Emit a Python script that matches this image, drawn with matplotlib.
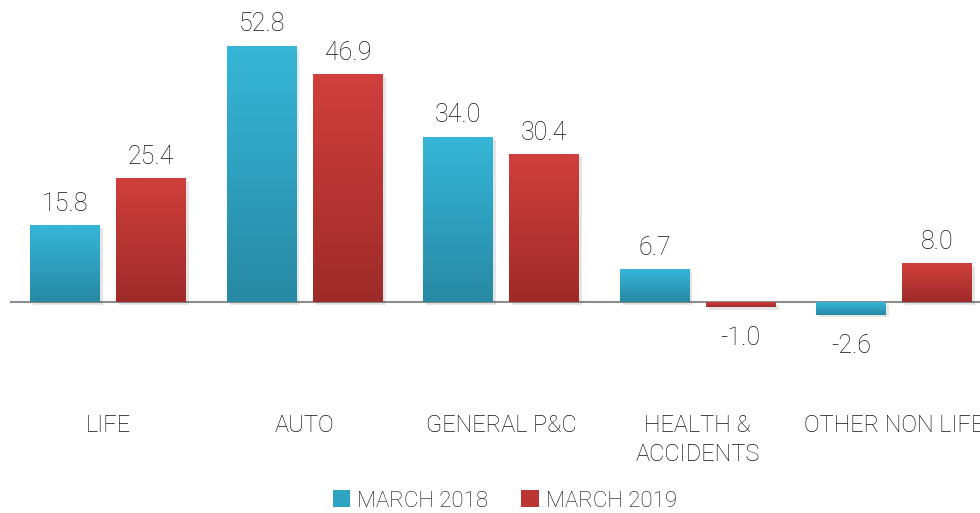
import numpy as np
import matplotlib
matplotlib.use("Agg")
import matplotlib.pyplot as plt
import matplotlib.patheffects as pe
from matplotlib.colors import to_rgb
from matplotlib.patches import Patch

categories = ["LIFE", "AUTO", "GENERAL P&C", "HEALTH &\nACCIDENTS", "OTHER NON LIFE"]
march_2018 = [15.8, 52.8, 34.0, 6.7, -2.6]
march_2019 = [25.4, 46.9, 30.4, -1.0, 8.0]
series_names = ["MARCH 2018", "MARCH 2019"]

blue_top, blue_bottom = "#36b6d8", "#2789a4"
red_top, red_bottom = "#d03f3c", "#9e2b29"

plt.rcParams["font.family"] = ["Roboto", "DejaVu Sans"]
plt.rcParams["font.weight"] = "light"

fig = plt.figure(figsize=(9.8, 5.13), dpi=100)
ax = fig.add_axes([10 / 980, 1 - 360.2 / 513, 982.5 / 980, 324.8 / 513])
ax.axis("off")

width = 0.356
offset = 0.219
x = np.arange(len(categories))


def gradient_bars(xs, values, top, bottom):
    bars = ax.bar(xs, values, width, color=bottom, zorder=2,
                  path_effects=[pe.SimplePatchShadow(offset=(2, -2), alpha=0.15,
                                                     shadow_rgbFace="#555555"),
                                pe.Normal()])
    grad = np.linspace(0, 1, 64)[:, None, None]
    img = (1 - grad) * np.array(to_rgb(top)) + grad * np.array(to_rgb(bottom))
    for b in bars:
        x0 = b.get_x()
        y0, y1 = sorted([b.get_y(), b.get_y() + b.get_height()])
        ax.imshow(img, extent=(x0, x0 + b.get_width(), y0, y1), origin="upper",
                  aspect="auto", zorder=3, interpolation="bilinear")
    return bars


gradient_bars(x - offset, march_2018, blue_top, blue_bottom)
gradient_bars(x + offset, march_2019, red_top, red_bottom)
ax.set_xlim(-0.5, 4.5)
ax.set_ylim(-12, 55)

ax.axhline(0, color="#8c8c8c", lw=1.5, zorder=1)

for xs, vals in [(x - offset, march_2018), (x + offset, march_2019)]:
    for xi, v in zip(xs, vals):
        if v >= 0:
            ax.annotate(f"{v:.1f}", (xi, v), xytext=(0, 7), textcoords="offset points",
                        ha="center", va="bottom", fontsize=18, color="#111111")
        else:
            ax.annotate(f"{v:.1f}", (xi, v), xytext=(0, -14), textcoords="offset points",
                        ha="center", va="top", fontsize=18, color="#111111")

for xi, name in zip(x, categories):
    ax.annotate(name, (xi, 0), xycoords=("data", "figure fraction"),
                xytext=(xi, 1 - 414 / 513), textcoords=("data", "figure fraction"),
                ha="center", va="top", fontsize=17, color="#111111",
                linespacing=1.35, annotation_clip=False)

handles = [Patch(facecolor="#2fa3c2"), Patch(facecolor="#bb3633")]
fig.legend(handles, series_names, loc="center", bbox_to_anchor=(0.515, 1 - 501 / 513),
           ncol=2, frameon=False, fontsize=16, handlelength=0.8, handleheight=0.8,
           handletextpad=0.3, columnspacing=1.5, labelcolor="#111111")

fig.savefig("out.png", dpi=100)
